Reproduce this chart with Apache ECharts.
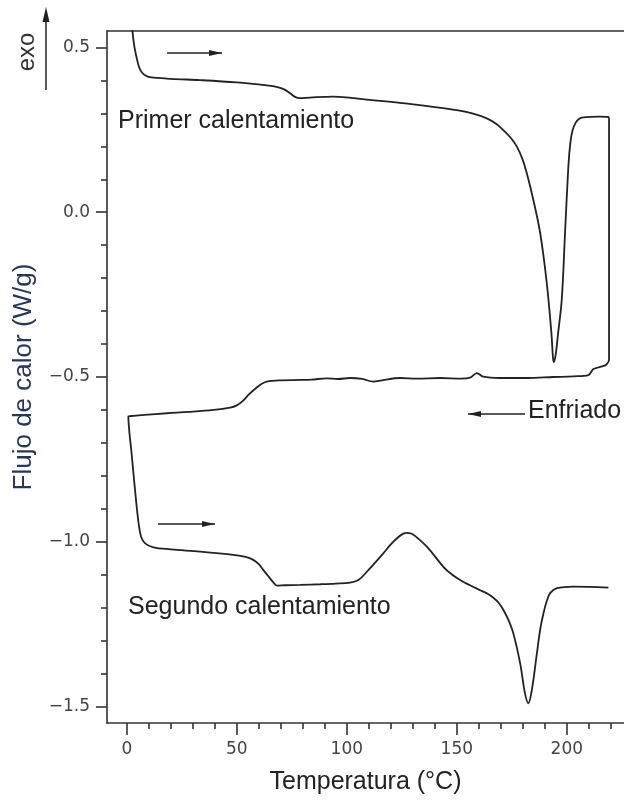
<!DOCTYPE html>
<html>
<head>
<meta charset="utf-8">
<script src="https://cdn.jsdelivr.net/npm/echarts@6/dist/echarts.min.js"></script>
<style>
html,body{margin:0;padding:0;background:#fff;}
#chart{width:624px;height:801px;}
</style>
</head>
<body>
<div id="chart"></div>
<script>
// ---- Data (Temperatura °C, Flujo de calor W/g) ----
const primerCalentamiento = [
  [1.9,0.62],[2.6,0.548],[3.5,0.500],[4.5,0.468],[5.6,0.440],[6.8,0.425],[8.3,0.416],[10.6,0.410],[20,0.405],[33.3,0.401],
  [50,0.394],[63.6,0.385],[68.5,0.380],[71.5,0.373],[74.2,0.361],[76.5,0.350],[78.5,0.346],[83.3,0.348],[93.8,0.351],
  [109.1,0.342],[124.2,0.332],[139.2,0.320],[150,0.310],[157,0.300],[163.6,0.285],[168,0.268],[171.0,0.250],[174.5,0.226],[177.3,0.199],
  [179.8,0.162],[181.8,0.119],[184.8,0.037],[187.9,-0.063],[190.9,-0.215],[193.0,-0.366],[193.7,-0.440],[194.1,-0.455],
  [195.0,-0.430],[196.0,-0.370],[197.7,-0.266],[199.2,-0.063],[200.7,0.138],[201.6,0.210],[202.6,0.248],[204.0,0.271],[205.5,0.283],
  [207.5,0.288],[215.1,0.290],[218.9,0.289],[219.2,0.282]
];
const enfriado = [
  [219.2,-0.448],[218.0,-0.462],[215.9,-0.468],[212.1,-0.476],[209.8,-0.494],[203,-0.498],[193.8,-0.500],
  [182,-0.503],[169.7,-0.503],[162,-0.499],[159.1,-0.488],[156,-0.502],[152,-0.505],[142.4,-0.503],
  [132,-0.505],[124.2,-0.503],[116,-0.510],[112.0,-0.514],[107,-0.506],[101.5,-0.503],[96,-0.506],
  [90.9,-0.504],[84,-0.508],[78.8,-0.509],[70,-0.510],[63.6,-0.514],[61.0,-0.522],[58.5,-0.535],[55.5,-0.553],
  [52.5,-0.574],[50,-0.586],[47,-0.593],[39.4,-0.600],[28,-0.606],[18.2,-0.610],[8,-0.615],[3.0,-0.618],[0.7,-0.620]
];
const segundoCalentamiento = [
  [1.2,-0.670],[2.0,-0.720],[3.0,-0.791],[4.5,-0.894],[5.5,-0.950],[6.5,-0.985],[8.3,-1.005],[12.1,-1.017],[20,-1.023],
  [33.3,-1.030],[48.5,-1.040],[54,-1.046],[57.5,-1.055],[60,-1.068],[62.1,-1.086],[64.5,-1.106],[66.6,-1.123],
  [68.2,-1.133],[72,-1.132],[78.8,-1.131],[88.0,-1.129],[95,-1.127],[101.5,-1.124],[105.3,-1.116],[109.1,-1.091],
  [116.6,-1.035],[120,-1.008],[122.7,-0.990],[125.5,-0.976],[127.3,-0.973],[129.2,-0.975],[131.0,-0.982],[136.4,-1.015],[143.9,-1.076],
  [147.5,-1.098],[151.5,-1.116],[156,-1.132],[160.6,-1.147],[164,-1.158],[166.6,-1.170],[169,-1.185],[171.2,-1.207],[173.5,-1.238],[175.7,-1.278],[178.8,-1.369],
  [181.0,-1.460],[182.5,-1.490],[184.1,-1.450],[186.4,-1.339],[188.0,-1.262],[189.4,-1.217],[190.9,-1.180],[192.4,-1.156],
  [195.5,-1.141],[203.0,-1.136],[218.9,-1.139]
];

// ---- Axes ----
const xMin = -9, xMax = 226;
const yMin = -1.55, yMax = 0.55;
const xMajorTicks = [0, 50, 100, 150, 200];
const xMinorTicks = [10, 20, 30, 40, 60, 70, 80, 90, 110, 120, 130, 140, 160, 170, 180, 190, 210, 220];
const yMajorTicks = [-1.5, -1.0, -0.5, 0.0, 0.5];
const yMinorTicks = [-1.4, -1.3, -1.2, -1.1, -0.9, -0.8, -0.7, -0.6, -0.4, -0.3, -0.2, -0.1, 0.1, 0.2, 0.3, 0.4];

const AX = '#333';
const axisLineStyle = {color: AX, width: 1.6};
const tickFont = {fontSize: 17, fontFamily: 'DejaVu Sans', color: '#444'};
const annFont = 'Liberation Sans';

const chart = echarts.init(document.getElementById('chart'), null, {renderer: 'canvas'});

function arrow(x1, x2, y, headRight) {
  const hx = headRight ? x2 : x1;
  const dir = headRight ? -1 : 1;
  return [
    {type: 'line', shape: {x1: x1, y1: y, x2: x2, y2: y}, style: {stroke: '#222', lineWidth: 1.5}},
    {type: 'polygon', shape: {points: [[hx, y], [hx + dir * 13, y - 3], [hx + dir * 13, y + 3]]}, style: {fill: '#222'}}
  ];
}

const texts = [
  {type: 'text', x: 118, y: 121, style: {text: 'Primer calentamiento', fontSize: 25, fontFamily: annFont, fill: '#222', align: 'left', verticalAlign: 'middle'}},
  {type: 'text', x: 128, y: 607, style: {text: 'Segundo calentamiento', fontSize: 25, fontFamily: annFont, fill: '#222', align: 'left', verticalAlign: 'middle'}},
  {type: 'text', x: 528, y: 411, style: {text: 'Enfriado', fontSize: 25, fontFamily: annFont, fill: '#222', align: 'left', verticalAlign: 'middle'}},
  {type: 'text', x: 27, y: 52, rotation: Math.PI / 2, style: {text: 'exo', fontSize: 24, fontFamily: annFont, fill: '#333', align: 'center', verticalAlign: 'middle'}},
  {type: 'line', shape: {x1: 46, y1: 90, x2: 46, y2: 18}, style: {stroke: '#222', lineWidth: 1.5}},
  {type: 'polygon', shape: {points: [[46, 7], [42.5, 22], [49.5, 22]]}, style: {fill: '#222'}}
];

const graphics = texts
  .concat(arrow(167, 222, 53, true))
  .concat(arrow(158, 215, 524, true))
  .concat(arrow(468, 525, 414, false));

const option = {
  animation: false,
  backgroundColor: '#fff',
  grid: {left: 107, right: 0, top: 31, bottom: 78, containLabel: false},
  xAxis: [
    {
      type: 'value', min: xMin, max: xMax, position: 'bottom',
      axisLine: {show: true, onZero: false, lineStyle: axisLineStyle},
      axisTick: {show: true, length: 12, customValues: xMajorTicks, lineStyle: axisLineStyle},
      axisLabel: Object.assign({customValues: xMajorTicks, margin: 18, formatter: v => String(v)}, tickFont),
      splitLine: {show: false},
      name: 'Temperatura (°C)', nameLocation: 'middle', nameGap: 47,
      nameTextStyle: {fontSize: 25, fontFamily: annFont, color: '#222'}
    },
    {
      type: 'value', min: xMin, max: xMax, position: 'bottom',
      axisLine: {show: false, onZero: false},
      axisTick: {show: true, length: 6, customValues: xMinorTicks, lineStyle: axisLineStyle},
      axisLabel: {show: false}, splitLine: {show: false}
    },
    {
      type: 'value', min: xMin, max: xMax, position: 'top',
      axisLine: {show: true, onZero: false, lineStyle: axisLineStyle},
      axisTick: {show: false}, axisLabel: {show: false}, splitLine: {show: false}
    }
  ],
  yAxis: [
    {
      type: 'value', min: yMin, max: yMax, position: 'left',
      axisLine: {show: true, onZero: false, lineStyle: axisLineStyle},
      axisTick: {show: true, length: 11, customValues: yMajorTicks, lineStyle: axisLineStyle},
      axisLabel: Object.assign({customValues: yMajorTicks, margin: 17,
        formatter: v => (v < 0 ? '\u2212' : '') + Math.abs(v).toFixed(1)}, tickFont),
      splitLine: {show: false},
      name: 'Flujo de calor (W/g)', nameLocation: 'middle', nameGap: 70, nameRotate: 90,
      nameTextStyle: {fontSize: 26, fontFamily: annFont, color: '#27375a'}
    },
    {
      type: 'value', min: yMin, max: yMax, position: 'left',
      axisLine: {show: false, onZero: false},
      axisTick: {show: true, length: 6, customValues: yMinorTicks, lineStyle: axisLineStyle},
      axisLabel: {show: false}, splitLine: {show: false}
    }
  ],
  series: [
    {
      type: 'line', xAxisIndex: 0, yAxisIndex: 0,
      data: primerCalentamiento.concat(enfriado, segundoCalentamiento),
      showSymbol: false, smooth: 0.35, clip: true,
      lineStyle: {color: '#222', width: 1.8}
    }
  ],
  graphic: graphics
};
chart.setOption(option);
</script>
</body>
</html>
